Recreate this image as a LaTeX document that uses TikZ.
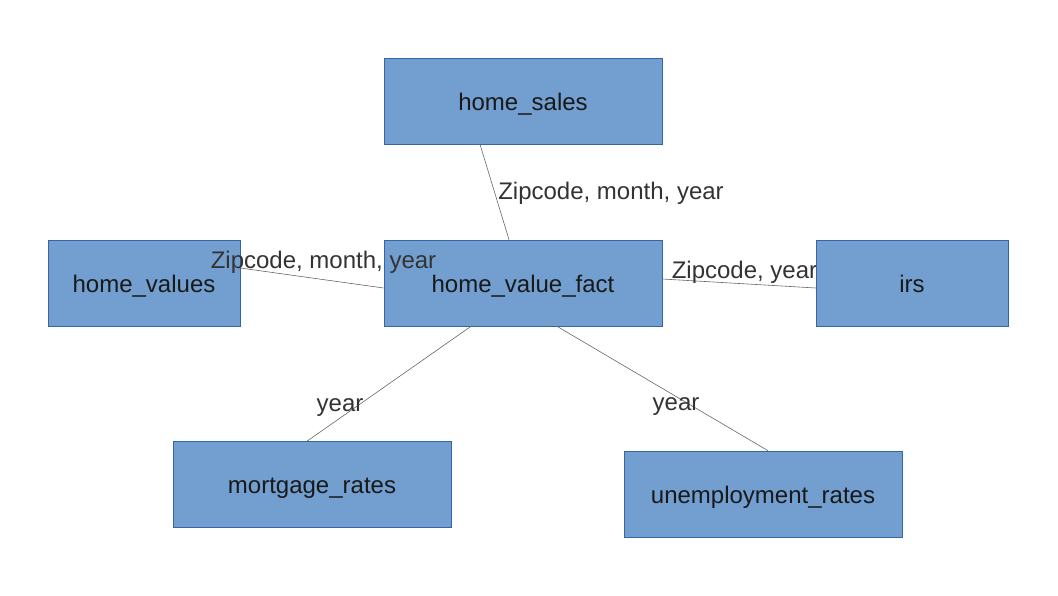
\documentclass[tikz,border=0pt]{standalone}
\usepackage{fontspec}
\setmainfont{Liberation Sans}
\usetikzlibrary{calc}
\definecolor{boxfill}{HTML}{729FCF}
\definecolor{boxline}{HTML}{3465A4}
\definecolor{lbl}{HTML}{333333}
\begin{document}
\begin{tikzpicture}[x=1pt,y=-1pt,
  entity/.style={draw=boxline,line width=0.6pt,fill=boxfill,minimum width=278pt,minimum height=86pt,inner sep=0pt,text height=18pt,text depth=0pt,font=\fontsize{24}{28}\selectfont,text=black!90},
  link/.style={draw=black!60,line width=0.6pt},
  lab/.style={font=\fontsize{24}{28}\selectfont,text=lbl,inner sep=0pt,anchor=base}]
\useasboundingbox (0,0) rectangle (1058,595);
\node[entity] (hs) at (523,101) {home\_sales};
\node[entity] (hf) at (523,283) {home\_value\_fact};
\node[entity,minimum width=192pt] (hv) at (144,283) {home\_values};
\node[entity,minimum width=278pt] (mr) at (312,484.5) {mortgage\_rates};
\node[entity] (ur) at (763,494) {unemployment\_rates};
\draw[link] ([xshift=-43pt]hs.south) -- ([xshift=-14pt]hf.north);
\draw[link] ([yshift=15pt]hv.east) -- ([yshift=-5pt]hf.west);
\draw[link] ([yshift=4pt]hf.east) -- ([yshift=-5pt]hf.east -| 816,0);
\draw[link] ([xshift=-52pt]hf.south) -- ([xshift=-5pt]mr.north);
\draw[link] ([xshift=34pt]hf.south) -- ([xshift=5pt]ur.north);
\node[lab] (l1) at (611,199) {Zipcode, month, year};
\node[lab] (l2) at (323.5,268) {Zipcode, month, year};
\node[lab] (l3) at (744.5,278) {Zipcode, year};
\node[lab] (l4) at (340,411) {year};
\node[lab] (l5) at (676,410) {year};
\node[entity,minimum width=192pt] (irs) at (912,283) {irs};
\end{tikzpicture}
\end{document}
